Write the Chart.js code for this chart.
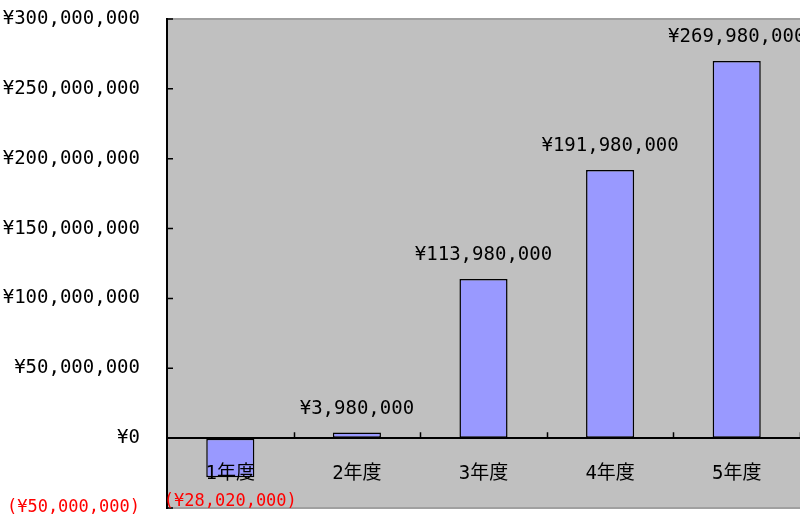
<!DOCTYPE html>
<html>
<head>
<meta charset="utf-8">
<script src="https://cdn.jsdelivr.net/npm/chart.js@4"></script>
<style>
  body { margin: 0; background: #fff; }
</style>
</head>
<body>
<canvas id="profitChart" width="800" height="519"></canvas>

<script>
  // 年度別の損益
  const categories = ["1年度", "2年度", "3年度", "4年度", "5年度"];
  const profits = [-28020000, 3980000, 113980000, 191980000, 269980000];
  const yMin = -50000000;
  const yMax = 300000000;
  const yStep = 50000000;

  function yen(v) {
    const s = "¥" + Math.abs(v).toLocaleString("en-US");
    return v < 0 ? "(" + s + ")" : s;
  }

  const FONT = "'DejaVu Sans Mono', 'Noto Sans CJK JP', monospace";

  // 背景・目盛り・データラベル
  const decor = {
    id: "decor",
    beforeDraw(chart) {
      const { ctx, chartArea: a } = chart;
      ctx.save();
      ctx.fillStyle = "#c0c0c0";
      ctx.fillRect(a.left, a.top, a.right - a.left, a.bottom - a.top);
      ctx.strokeStyle = "#a0a0a0";
      ctx.lineWidth = 2;
      ctx.beginPath();
      ctx.moveTo(a.left, a.top);
      ctx.lineTo(a.right, a.top);
      ctx.moveTo(a.left, a.bottom);
      ctx.lineTo(a.right, a.bottom);
      ctx.stroke();
      ctx.restore();
    },
    afterDraw(chart) {
      const { ctx, chartArea: a } = chart;
      const x = chart.scales.x;
      const y = chart.scales.y;
      const zeroY = y.getPixelForValue(0);
      ctx.save();
      ctx.strokeStyle = "#000";
      ctx.lineWidth = 1.5;
      ctx.beginPath();
      y.ticks.forEach((t) => {
        const py = y.getPixelForValue(t.value);
        ctx.moveTo(a.left, py);
        ctx.lineTo(a.left + 6, py);
      });
      const half = (x.getPixelForValue(1) - x.getPixelForValue(0)) / 2;
      for (let i = 1; i <= categories.length; i++) {
        const px = Math.round(x.getPixelForValue(i - 1) + half) + 0.5;
        ctx.moveTo(px, zeroY);
        ctx.lineTo(px, zeroY - 6);
      }
      ctx.stroke();

      // データラベル
      ctx.textAlign = "center";
      ctx.textBaseline = "middle";
      const meta = chart.getDatasetMeta(0);
      meta.data.forEach((bar, i) => {
        const v = profits[i];
        ctx.font = (v < 0 ? "17px " : "19px ") + FONT;
        ctx.fillStyle = v < 0 ? "#ff0000" : "#000";
        ctx.fillText(yen(v), bar.x, v < 0 ? bar.y + 24 : bar.y - 24);
      });
      ctx.restore();
    },
  };

  document.addEventListener("DOMContentLoaded", function () {
    Chart.defaults.font.family = FONT;
    const ctx = document.getElementById("profitChart").getContext("2d");
    new Chart(ctx, {
      type: "bar",
      data: {
        labels: categories,
        datasets: [
          {
            label: "損益",
            data: profits,
            backgroundColor: "#9999ff",
            borderColor: "#000",
            borderWidth: 1.5,
            borderSkipped: false,
            categoryPercentage: 1,
            barPercentage: 0.38,
          },
        ],
      },
      options: {
        responsive: false,
        animation: false,
        devicePixelRatio: 1,
        layout: { padding: { top: 19, bottom: 11, left: 0, right: 0 } },
        plugins: { legend: { display: false }, tooltip: { enabled: false } },
        scales: {
          x: {
            position: { y: 0 },
            grid: { drawOnChartArea: false, drawTicks: false },
            border: { color: "#000", width: 2, z: 1 },
            afterFit: (s) => {
              s.height = 0;
              s.paddingLeft = 0;
              s.paddingRight = 0;
            },
            ticks: {
              z: 1,
              color: "#000",
              padding: 26,
              maxRotation: 0,
              font: { size: 19, lineHeight: 1 },
            },
          },
          y: {
            min: yMin,
            max: yMax,
            grid: { drawOnChartArea: false, drawTicks: false },
            border: { color: "#000", width: 2 },
            afterFit: (s) => {
              s.width = 167;
              s.paddingTop = 0;
              s.paddingBottom = 0;
            },
            ticks: {
              stepSize: yStep,
              padding: 27,
              font: (c) => ({ size: c.tick && c.tick.value < 0 ? 17 : 19, lineHeight: 1 }),
              color: (c) => (c.tick && c.tick.value < 0 ? "#ff0000" : "#000"),
              callback: function (value) {
                return yen(value);
              },
            },
          },
        },
      },
      plugins: [decor],
    });
  });
</script>
</body>
</html>
